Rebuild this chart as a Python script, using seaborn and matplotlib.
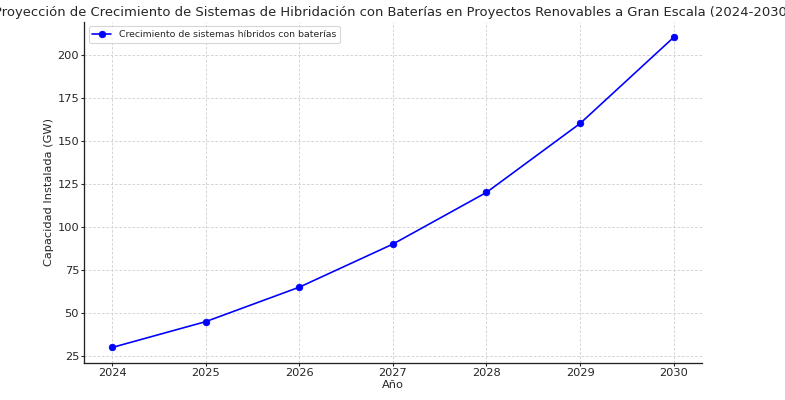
import matplotlib
matplotlib.use("Agg")
import matplotlib.pyplot as plt
import seaborn as sns
import pandas as pd

# --- datos ---
years = [2024, 2025, 2026, 2027, 2028, 2029, 2030]
capacity_gw = [30, 45, 65, 90, 120, 160, 210]

df = pd.DataFrame({"Año": years, "Capacidad": capacity_gw})

sns.set_style("ticks")
plt.rcParams['font.family'] = ['DejaVu Sans']

# figura de 10x5.1 pulgadas a 78.5 dpi -> 785x400 px
fig = plt.figure(figsize=(10, 400 / 78.5), dpi=78.5)
ax = fig.add_axes([0.107, 0.0925, 0.787, 0.853])

sns.lineplot(data=df, x="Año", y="Capacidad", marker="o", color="blue",
             markeredgecolor="blue", markersize=6, linewidth=1.5,
             label="Crecimiento de sistemas híbridos con baterías", ax=ax)

ax.set_title("Proyección de Crecimiento de Sistemas de Hibridación con Baterías en Proyectos Renovables a Gran Escala (2024-2030)",
             fontsize=12.1, color="#262626", pad=5)
ax.set_xlabel("Año", fontsize=10.4, color="#262626", labelpad=2)
ax.set_ylabel("Capacidad Instalada (GW)", fontsize=10.4, color="#262626", labelpad=3)
ax.set_xticks(years)
ax.set_yticks([25, 50, 75, 100, 125, 150, 175, 200])
ax.tick_params(labelsize=10.4, colors="#262626", width=1.0, length=3, pad=1.5)
ax.grid(True, linestyle=(0, (3, 2)), color="#d0d0d0", linewidth=0.8)
sns.despine(ax=ax)
for s in ("left", "bottom"):
    ax.spines[s].set_color("#222222")
    ax.spines[s].set_linewidth(1.2)
ax.legend(loc="upper left", fontsize=8.6, frameon=True)

fig.savefig("out.png", dpi=78.5)
